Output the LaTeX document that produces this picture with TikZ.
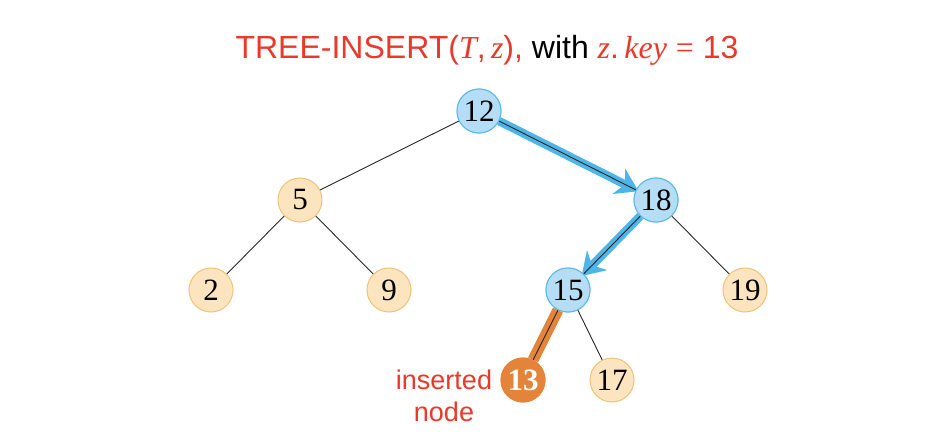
\documentclass[tikz,border=0pt]{standalone}
\usepackage{fontspec}
\setmainfont{Liberation Serif}
\newfontfamily\titlefont{Liberation Sans}
\newfontfamily\mathitfont{Liberation Serif}
\usetikzlibrary{arrows.meta}
\definecolor{tred}{HTML}{E8392A}
\definecolor{bfill}{HTML}{B5DEF6}
\definecolor{bdraw}{HTML}{5CB8E8}
\definecolor{yfill}{HTML}{FCE5BE}
\definecolor{ydraw}{HTML}{F0C27A}
\definecolor{ofill}{HTML}{E4843A}
\definecolor{band}{HTML}{4DB5E8}
\newcommand{\mi}[1]{{\mathitfont\itshape #1}}
\begin{document}
\begin{tikzpicture}[x=1pt,y=-1pt,
  keynode/.style={circle,minimum size=44pt,inner sep=0pt,font=\fontsize{31}{31}\selectfont,line width=1pt},
  bluenode/.style={keynode,fill=bfill,draw=bdraw},
  beigenode/.style={keynode,fill=yfill,draw=ydraw},
  orangenode/.style={keynode,fill=ofill,draw=ofill,text=white,font=\fontsize{31}{31}\selectfont\bfseries},
  edge/.style={draw=black!85,line width=0.9pt},
  pathband/.style={draw=band,line width=8.5pt,-{Stealth[length=22pt,width=28pt,inset=7pt]},shorten >=-3pt},
  insband/.style={draw=ofill,line width=11pt}]
\useasboundingbox (0,0) rectangle (950,444);
\node[font=\titlefont\fontsize{32}{32}\selectfont,anchor=center] (title) at (487,50)
  {\textcolor{tred}{TREE-INSERT(\mi{T},\,\mi{z}),} with \textcolor{tred}{\mi{z}.\,\mi{key}\;{\mathitfont =}\;13}};
\node[bluenode] (n12) at (479,111) {12};
\node[beigenode] (n5) at (300,200) {5};
\node[bluenode] (n18) at (656,200) {18};
\node[beigenode] (n2) at (211,290) {2};
\node[beigenode] (n9) at (389,290) {9};
\node[bluenode] (n15) at (568,290) {15};
\node[beigenode] (n19) at (745,290) {19};
\node[orangenode] (n13) at (523,380) {13};
\node[beigenode] (n17) at (612,380) {17};
\node[font=\titlefont\fontsize{27}{32}\selectfont,text=tred,align=center] (lbl) at (444,396) {inserted\\node};
% bands
\path[pathband] (n12) -- (n18);
\path[pathband] (n18) -- (n15);
\path[insband] (n15) -- (n13);
% edges
\path[edge] (n12) -- (n5);
\path[edge] (n12) -- (n18);
\path[edge] (n5) -- (n2);
\path[edge] (n5) -- (n9);
\path[edge] (n18) -- (n15);
\path[edge] (n18) -- (n19);
\path[edge] (n15) -- (n13);
\path[edge] (n15) -- (n17);
% redraw nodes on top
\node[bluenode] at (n12) {12};
\node[bluenode] at (n18) {18};
\node[bluenode] at (n15) {15};
\node[orangenode] at (n13) {13};
\end{tikzpicture}
\end{document}
